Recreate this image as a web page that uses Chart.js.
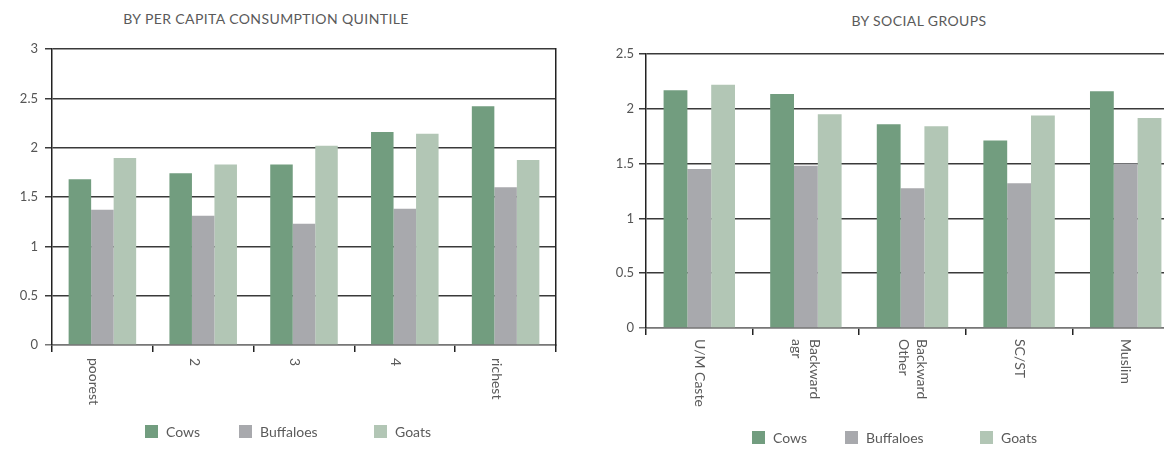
<!DOCTYPE html>
<html>
<head>
<meta charset="utf-8">
<script src="https://cdn.jsdelivr.net/npm/chart.js@4"></script>
<style>
  html, body { margin: 0; padding: 0; background: #fff; }
  body { width: 1164px; height: 456px; position: relative; overflow: hidden; font-family: Lato, "Open Sans", sans-serif; color: #555; }
  .title { position: absolute; font-size: 14px; letter-spacing: 0.4px; transform: translateX(-50%); white-space: nowrap; color: #5a5a5a; }
  .chartbox { position: absolute; top: 0; height: 456px; }
  .legend-item { position: absolute; font-size: 14px; display: flex; align-items: center; white-space: nowrap; color: #5a5a5a; }
  .legend-item span.box { display: inline-block; width: 13px; height: 13px; margin-right: 8px; }
</style>
</head>
<body>
<div class="title" style="left:266px; top:10px;">BY PER CAPITA CONSUMPTION QUINTILE</div>
<div class="title" style="left:919px; top:12px;">BY SOCIAL GROUPS</div>
<div class="chartbox" style="left:0; width:580px;"><canvas id="quintileChart"></canvas></div>
<div class="chartbox" style="left:580px; width:620px;"><canvas id="socialChart"></canvas></div>
<div id="legendLeft"></div>
<div id="legendRight"></div>
<script>
// series
var seriesNames = ['Cows', 'Buffaloes', 'Goats'];
var seriesColors = ['#729d7f', '#a8a9ad', '#b2c6b5'];

// by per capita consumption quintile
var quintileLabels = ['poorest', '2', '3', '4', 'richest'];
var quintileCows = [1.68, 1.74, 1.83, 2.16, 2.42];
var quintileBuffaloes = [1.37, 1.31, 1.23, 1.38, 1.60];
var quintileGoats = [1.895, 1.83, 2.02, 2.14, 1.875];
var quintileMax = 3;

// by social groups
var socialLabels = ['U/M Caste', ['Backward', 'agr'], ['Backward', 'Other'], 'SC/ST', 'Muslim'];
var socialCows = [2.17, 2.135, 1.86, 1.71, 2.16];
var socialBuffaloes = [1.45, 1.48, 1.275, 1.32, 1.50];
var socialGoats = [2.22, 1.95, 1.84, 1.94, 1.915];
var socialMax = 2.5;

var tickStep = 0.5;
var fontFamily = 'Lato, "Open Sans", sans-serif';

// draws the category labels rotated clockwise, reading downwards
var rotatedLabels = {
    id: 'rotatedLabels',
    afterDraw: function(chart, args, opts) {
        var ctx = chart.ctx;
        var xScale = chart.scales.x;
        var labels = chart.data.labels;
        ctx.save();
        ctx.font = '14px ' + fontFamily;
        ctx.fillStyle = '#5a5a5a';
        ctx.textAlign = 'left';
        ctx.textBaseline = 'middle';
        labels.forEach(function(label, i) {
            var lines = Array.isArray(label) ? label : [label];
            var x = xScale.getPixelForValue(i) + opts.offsetX;
            var y = chart.chartArea.bottom + opts.gap;
            ctx.save();
            ctx.translate(x, y);
            ctx.rotate(Math.PI / 2);
            lines.forEach(function(line, j) {
                ctx.fillText(line, 0, (j - (lines.length - 1) / 2) * 18);
            });
            ctx.restore();
        });
        ctx.restore();
    }
};

function makeChart(canvasId, labels, cows, buffaloes, goats, maxVal, layout, labelOpts, withRightBorder) {
    var ctx = document.getElementById(canvasId).getContext('2d');
    var data = [cows, buffaloes, goats];
    var scales = {
        x: {
            offset: true,
            grid: {
                offset: true,
                drawOnChartArea: false,
                drawTicks: true,
                tickLength: 7,
                color: '#222',
                lineWidth: 1.5
            },
            border: { display: true, color: '#777', width: 1.5 },
            ticks: { display: false },
            afterFit: function(scale) { scale.height = 7; }
        },
        y: {
            min: 0,
            max: maxVal,
            ticks: {
                stepSize: tickStep,
                padding: layout.tickPad,
                color: '#555',
                font: { family: fontFamily, size: 13 },
                callback: function(v) { return String(v); }
            },
            grid: {
                tickLength: 7,
                lineWidth: 1.5,
                color: function(c) { return c.tick && c.tick.value === 0 ? '#777' : '#3a3a3a'; }
            },
            border: { display: true, color: '#222', width: 1.5 },
            afterFit: function(scale) { scale.width = layout.axisWidth; }
        }
    };
    if (withRightBorder) {
        scales.y2 = {
            position: 'right',
            min: 0,
            max: maxVal,
            ticks: { display: false },
            grid: { display: false },
            border: { display: true, color: '#222', width: 1.5 },
            afterFit: function(scale) { scale.width = 0; }
        };
    }
    return new Chart(ctx, {
        type: 'bar',
        data: {
            labels: labels,
            datasets: seriesNames.map(function(name, k) {
                return {
                    label: name,
                    data: data[k],
                    backgroundColor: seriesColors[k],
                    borderWidth: 0,
                    categoryPercentage: 0.67,
                    barPercentage: 1.0
                };
            })
        },
        options: {
            responsive: true,
            maintainAspectRatio: false,
            animation: false,
            layout: { padding: layout.padding },
            plugins: {
                legend: { display: false },
                tooltip: { enabled: false },
                rotatedLabels: labelOpts
            },
            scales: scales
        },
        plugins: [rotatedLabels]
    });
}

function makeLegend(id, lefts, top) {
    var holder = document.getElementById(id);
    seriesNames.forEach(function(name, k) {
        var item = document.createElement('div');
        item.className = 'legend-item';
        item.style.left = lefts[k] + 'px';
        item.style.top = top + 'px';
        var box = document.createElement('span');
        box.className = 'box';
        box.style.background = seriesColors[k];
        item.appendChild(box);
        item.appendChild(document.createTextNode(name));
        holder.appendChild(item);
    });
}

makeChart('quintileChart', quintileLabels, quintileCows, quintileBuffaloes, quintileGoats, quintileMax,
    { padding: { top: 49, right: 24, bottom: 104, left: 0 }, axisWidth: 52, tickPad: 7 },
    { offsetX: -9, gap: 13 }, true);

makeChart('socialChart', socialLabels, socialCows, socialBuffaloes, socialGoats, socialMax,
    { padding: { top: 54, right: 21, bottom: 121, left: 0 }, axisWidth: 66, tickPad: 5 },
    { offsetX: 0, gap: 11 }, false);

makeLegend('legendLeft', [145, 239, 374], 423);
makeLegend('legendRight', [752, 845, 980], 429);
</script>
</body>
</html>
